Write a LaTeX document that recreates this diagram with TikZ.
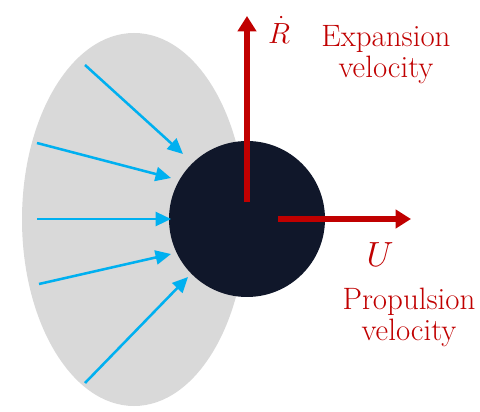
\documentclass[tikz,border=0pt]{standalone}
\usetikzlibrary{arrows.meta}

\definecolor{shellgray}{HTML}{D9D9D9}
\definecolor{coregray}{HTML}{10172A}
\definecolor{velred}{HTML}{C00000}
\definecolor{flowblue}{HTML}{00B0F0}

\begin{document}
\begin{tikzpicture}[x=0.025cm, y=-0.025cm,
    flow/.style={-{Triangle[width=10pt,length=11pt]}, flowblue, line width=1.8pt},
    vel/.style={-{Triangle[width=13pt,length=11pt]}, velred, line width=4.2pt},
    label/.style={text=velred, inner sep=0pt, align=center, font=\fontsize{22}{22}\selectfont}]
    \useasboundingbox (0,0) rectangle (480,412);

    % shell and bubble
    \fill[shellgray] (134,219.5) ellipse (112 and 186.5);
    \node[circle, fill=coregray, minimum size=156*0.025cm, inner sep=0pt] (bubble) at (247,219) {};

    % inflow
    \coordinate (in1) at (85,65);   \coordinate (to1) at (183,154);
    \coordinate (in2) at (37,143);  \coordinate (to2) at (171,178);
    \coordinate (in3) at (37,219);  \coordinate (to3) at (171,219);
    \coordinate (in4) at (39,284);  \coordinate (to4) at (171,254);
    \coordinate (in5) at (85,383);  \coordinate (to5) at (188,277);
    \foreach \i in {1,...,5}
        \draw[flow] (in\i) -- (to\i);

    % velocities
    \coordinate (rdot0) at (247,202);  \coordinate (rdot1) at (247,16);
    \coordinate (u0) at (278,219);     \coordinate (u1) at (411,219);
    \draw[vel] (rdot0) -- (rdot1);
    \draw[vel] (u0) -- (u1);

    \node[label] (rdot) at (279,30) {$\dot{R}$};
    \node[label] (expansion) at (386,55) {Expansion\\velocity};
    \node[label, font=\fontsize{27}{28}\selectfont] (u) at (380,255) {$U$};
    \node[label] (propulsion) at (409,317) {Propulsion\\velocity};
\end{tikzpicture}
\end{document}
